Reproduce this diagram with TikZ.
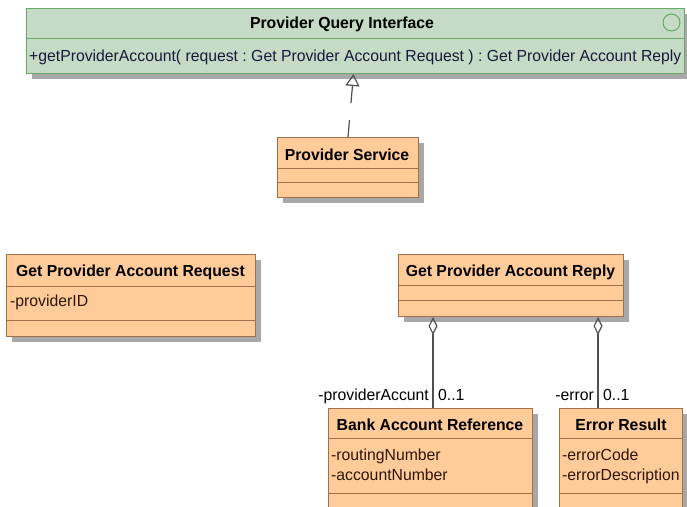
\documentclass[tikz,border=0pt]{standalone}
\usepackage{fontspec}
\setmainfont{Liberation Sans}[FakeStretch=0.985]
\usetikzlibrary{shadows,arrows.meta,calc}
\definecolor{ifill}{RGB}{197,219,197}
\definecolor{idraw}{RGB}{104,168,104}
\definecolor{cfill}{RGB}{255,204,153}
\definecolor{cdraw}{RGB}{160,112,72}
\definecolor{shad}{RGB}{168,168,168}
\definecolor{ctext}{RGB}{45,22,10}
\definecolor{mtext}{RGB}{25,25,60}
\definecolor{lnk}{RGB}{80,80,80}
\frenchspacing
\begin{document}
\begin{tikzpicture}[x=1pt,y=-1pt,
  box/.style={draw, line width=1pt, inner sep=0, anchor=north west,
    drop shadow={shadow xshift=5pt, shadow yshift=-5pt, fill=shad, opacity=1}},
  cls/.style={box, fill=cfill, draw=cdraw},
  ifc/.style={box, fill=ifill, draw=idraw},
  cdiv/.style={draw=cdraw, line width=1pt},
  idiv/.style={draw=idraw, line width=1pt},
  ctitle/.style={font=\fontsize{16}{19}\selectfont\bfseries, text=black, anchor=base, inner sep=0},
  attr/.style={font=\fontsize{16}{19}\selectfont, text=ctext, anchor=base west, inner sep=0},
  meth/.style={font=\fontsize{16}{19}\selectfont, text=mtext, anchor=base west, inner sep=0},
  lbl/.style={font=\fontsize{16}{19}\selectfont, text=black, inner sep=0},
  link/.style={draw=lnk, line width=1.2pt},
  realize/.style={link, dash pattern=on 17pt off 17pt, -{Triangle[open, length=12pt, width=14pt]}},
  agg/.style={link, {Diamond[open, length=18pt, width=9pt]}-}
]
\useasboundingbox (0,0) rectangle (687,506);
\clip (0,0) rectangle (687,506);

% Interface
\node[ifc, minimum width=658, minimum height=65] (pqi) at (26,8) {};
\draw[idiv] ([yshift=-30]pqi.north west) -- ([yshift=-30]pqi.north east);
\node[ctitle] (pqiT) at (342,28.7) {Provider Query Interface};
\node[circle, draw=idraw, line width=1pt, minimum size=17, inner sep=0] (pqiC) at (671.5,22.5) {};
\node[meth] (pqiM) at (29,61.5) {+getProviderAccount( request : Get Provider Account Request ) : Get Provider Account Reply};

% Provider Service
\node[cls, minimum width=141, minimum height=60] (ps) at (277,137) {};
\draw[cdiv] ([yshift=-31]ps.north west) -- ([yshift=-31]ps.north east);
\draw[cdiv] ([yshift=-45.5]ps.north west) -- ([yshift=-45.5]ps.north east);
\node[ctitle] (psT) at (347,160) {Provider Service};

% Request
\node[cls, minimum width=249, minimum height=82] (req) at (6,254) {};
\draw[cdiv] ([yshift=-32]req.north west) -- ([yshift=-32]req.north east);
\draw[cdiv] ([yshift=-66]req.north west) -- ([yshift=-66]req.north east);
\node[ctitle] (reqT) at (130.5,276.7) {Get Provider Account Request};
\node[attr] (reqA) at (10,306.7) {-providerID};

% Reply
\node[cls, minimum width=225, minimum height=62] (rep) at (398,254) {};
\draw[cdiv] ([yshift=-31]rep.north west) -- ([yshift=-31]rep.north east);
\draw[cdiv] ([yshift=-46]rep.north west) -- ([yshift=-46]rep.north east);
\node[ctitle] (repT) at (510.5,276.7) {Get Provider Account Reply};

% Bank Account Reference
\node[cls, minimum width=204, minimum height=130] (bank) at (328,408) {};
\draw[cdiv] ([yshift=-30]bank.north west) -- ([yshift=-30]bank.north east);
\draw[cdiv] ([yshift=-85]bank.north west) -- ([yshift=-85]bank.north east);
\node[ctitle] (bankT) at (430,430) {Bank Account Reference};
\node[attr] (bankA1) at (331,460) {-routingNumber};
\node[attr] (bankA2) at (331,480) {-accountNumber};

% Error Result
\node[cls, minimum width=123, minimum height=130] (err) at (559,408) {};
\draw[cdiv] ([yshift=-30]err.north west) -- ([yshift=-30]err.north east);
\draw[cdiv] ([yshift=-85]err.north west) -- ([yshift=-85]err.north east);
\node[ctitle] (errT) at (621,430) {Error Result};
\node[attr] (errA1) at (562,460) {-errorCode};
\node[attr] (errA2) at (562,480) {-errorDescription};

% Realization
\draw[realize] (ps.north) -- ($(pqi.south)+(-2,0)$);

% Aggregations
\coordinate (a1) at ($(rep.south west)+(35,0)$);
\coordinate (a2) at ($(rep.south west)+(200,0)$);
\draw[agg] (a1) -- (a1 |- bank.north);
\draw[agg] (a2) -- (a2 |- err.north);
\node[lbl, anchor=base east] (l1r) at ($(a1 |- bank.north)+(-4,-8)$) {-providerAccunt};
\node[lbl, anchor=base west] (l1m) at ($(a1 |- bank.north)+(5,-8)$) {0..1};
\node[lbl, anchor=base east] (l2r) at ($(a2 |- err.north)+(-4,-8)$) {-error};
\node[lbl, anchor=base west] (l2m) at ($(a2 |- err.north)+(5,-8)$) {0..1};
\end{tikzpicture}
\end{document}
